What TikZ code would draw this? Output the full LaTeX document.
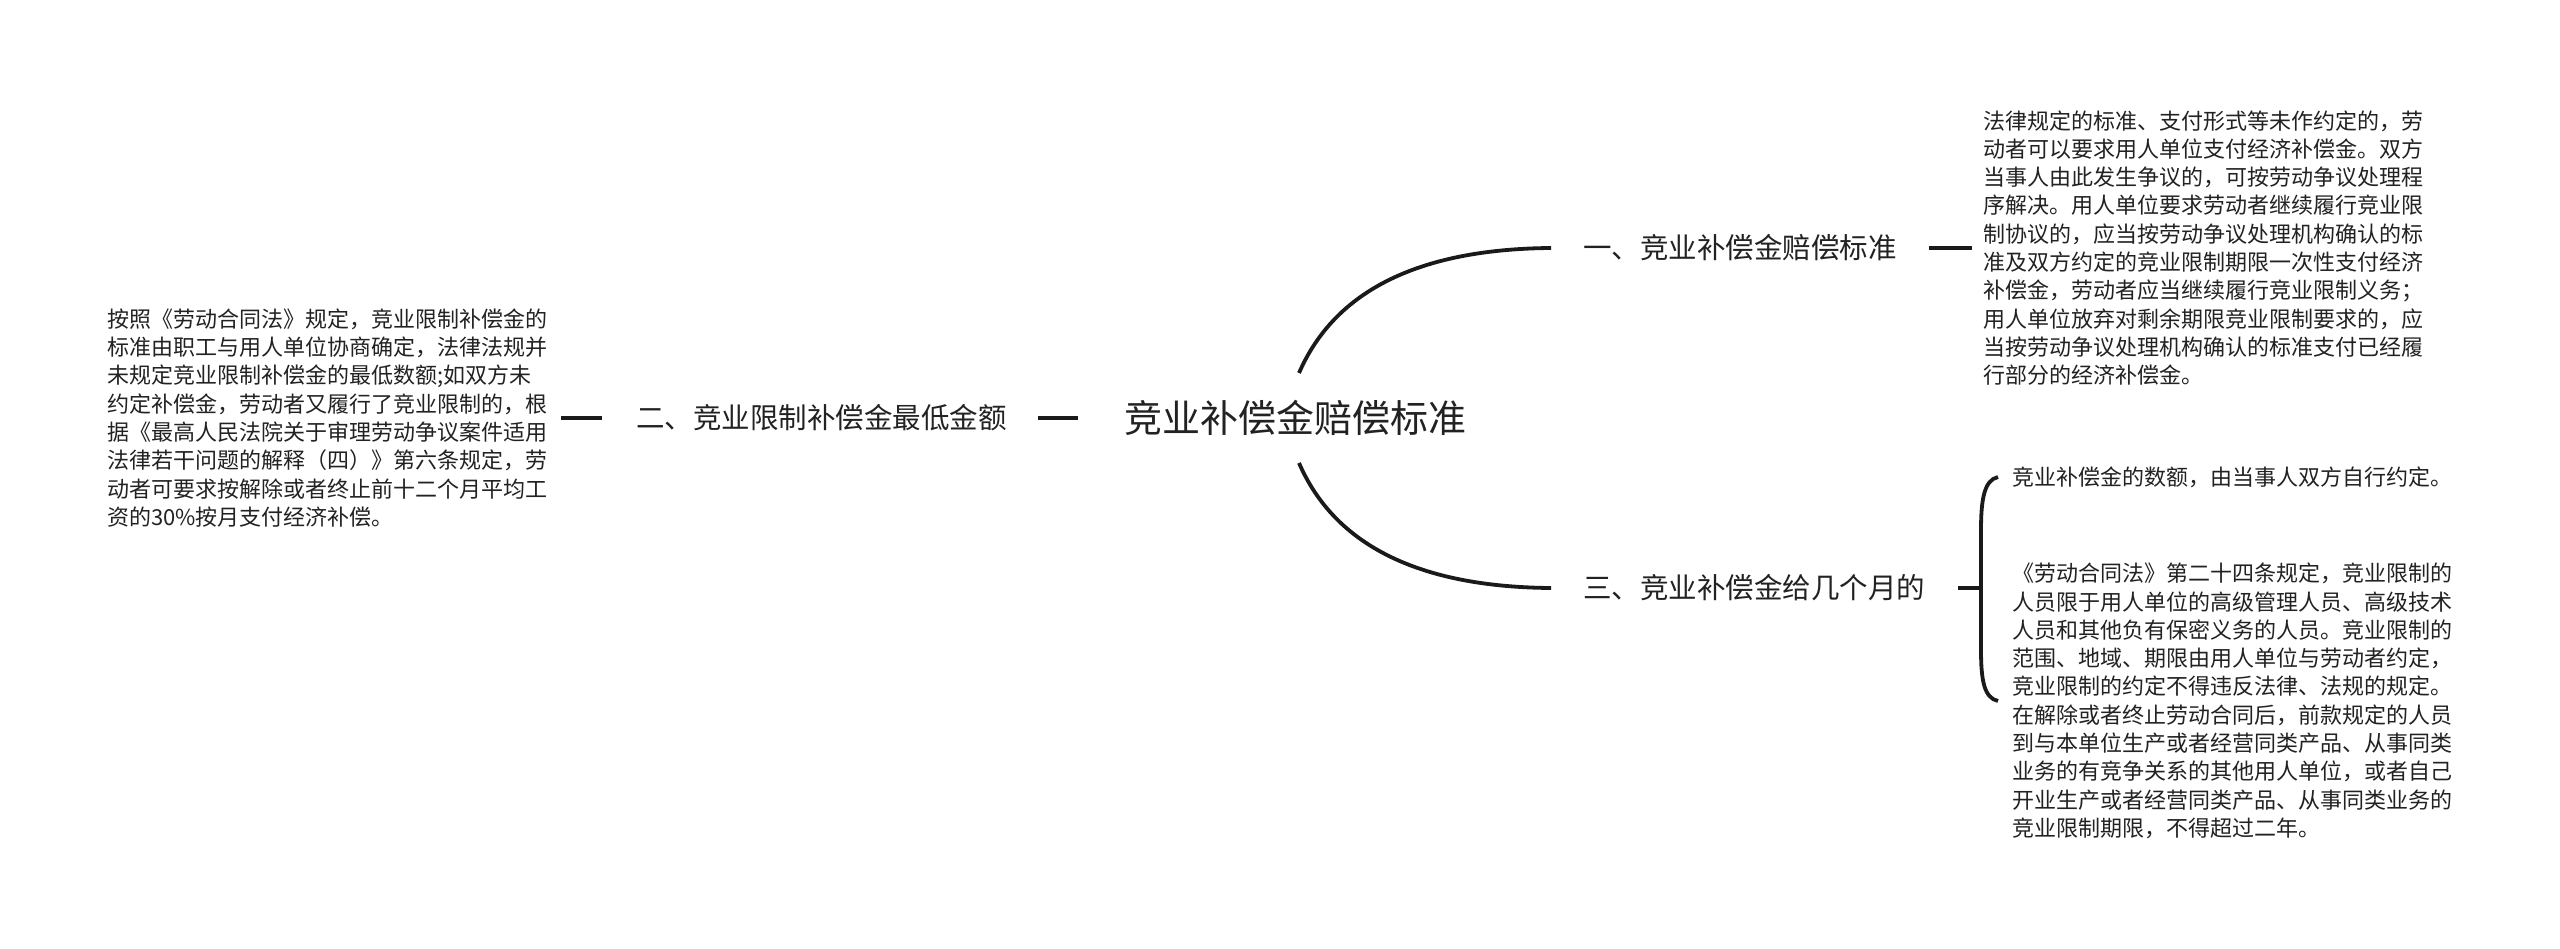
\documentclass[tikz,border=0pt]{standalone}
\usepackage{fontspec}
\setmainfont{Noto Sans CJK SC}
\definecolor{tc}{HTML}{222222}
\definecolor{lc}{HTML}{1A1A1A}
\begin{document}
\begin{tikzpicture}[x=1pt,y=-1pt,
  conn/.style={draw=lc, line width=3.8pt},
  para/.style={inner sep=0pt, anchor=west, align=left, font=\fontsize{22}{28.3}\selectfont, text=tc},
  branch/.style={inner sep=0pt, font=\fontsize{28.5}{34}\selectfont, text=tc},
  rootstyle/.style={inner sep=0pt, font=\fontsize{38}{44}\selectfont, text=tc}]
\useasboundingbox (0,0) rectangle (2560,949);
\fill[white] (0,0) rectangle (2560,949);

\node[rootstyle] (root) at (1295,418) {竞业补偿金赔偿标准};
\node[branch, anchor=east] (b2) at (1007,418) {二、竞业限制补偿金最低金额};
\node[branch, anchor=west] (b1) at (1583,248) {一、竞业补偿金赔偿标准};
\node[branch, anchor=west] (b3) at (1583,588) {三、竞业补偿金给几个月的};

\node[para] (t2) at (107,418) {按照《劳动合同法》规定，竞业限制补偿金的\\
标准由职工与用人单位协商确定，法律法规并\\
未规定竞业限制补偿金的最低数额;如双方未\\
约定补偿金，劳动者又履行了竞业限制的，根\\
据《最高人民法院关于审理劳动争议案件适用\\
法律若干问题的解释（四）》第六条规定，劳\\
动者可要求按解除或者终止前十二个月平均工\\
资的30\%按月支付经济补偿。};

\node[para] (t1) at (1983,248) {法律规定的标准、支付形式等未作约定的，劳\\
动者可以要求用人单位支付经济补偿金。双方\\
当事人由此发生争议的，可按劳动争议处理程\\
序解决。用人单位要求劳动者继续履行竞业限\\
制协议的，应当按劳动争议处理机构确认的标\\
准及双方约定的竞业限制期限一次性支付经济\\
补偿金，劳动者应当继续履行竞业限制义务；\\
用人单位放弃对剩余期限竞业限制要求的，应\\
当按劳动争议处理机构确认的标准支付已经履\\
行部分的经济补偿金。};

\node[para] (c1) at (2012,477) {竞业补偿金的数额，由当事人双方自行约定。};
\node[para] (c2) at (2012,701) {《劳动合同法》第二十四条规定，竞业限制的\\
人员限于用人单位的高级管理人员、高级技术\\
人员和其他负有保密义务的人员。竞业限制的\\
范围、地域、期限由用人单位与劳动者约定，\\
竞业限制的约定不得违反法律、法规的规定。\\
在解除或者终止劳动合同后，前款规定的人员\\
到与本单位生产或者经营同类产品、从事同类\\
业务的有竞争关系的其他用人单位，或者自己\\
开业生产或者经营同类产品、从事同类业务的\\
竞业限制期限，不得超过二年。};

\coordinate (rt) at (1299,373);
\coordinate (rb) at (1299,463);

% root connectors
\draw[conn] ([xshift=31pt]b2.east) -- ([xshift=-46pt]root.west);
\draw[conn] ([xshift=14pt]t2.east) -- ([xshift=-34pt]b2.west);
\draw[conn] (rt) .. controls (1335,290) and (1420,249) .. ([xshift=-32pt]b1.west);
\draw[conn] (rb) .. controls (1335,546) and (1420,587) .. ([xshift=-32pt]b3.west);

% branch 1 to its text
\draw[conn] ([xshift=32pt]b1.east) -- ([xshift=-11pt]t1.west);

% branch 3 to its bracket
\coordinate (bm) at (1979,588);
\draw[conn] ([xshift=33pt]b3.east) -- (bm);
\draw[conn] ([xshift=-14pt]c1.west) .. controls (1984,480) and (1981,500) .. (1981,530)
  -- (1981,650) .. controls (1981,680) and (1984,698) .. ([xshift=-14pt]c2.west);
\end{tikzpicture}
\end{document}
